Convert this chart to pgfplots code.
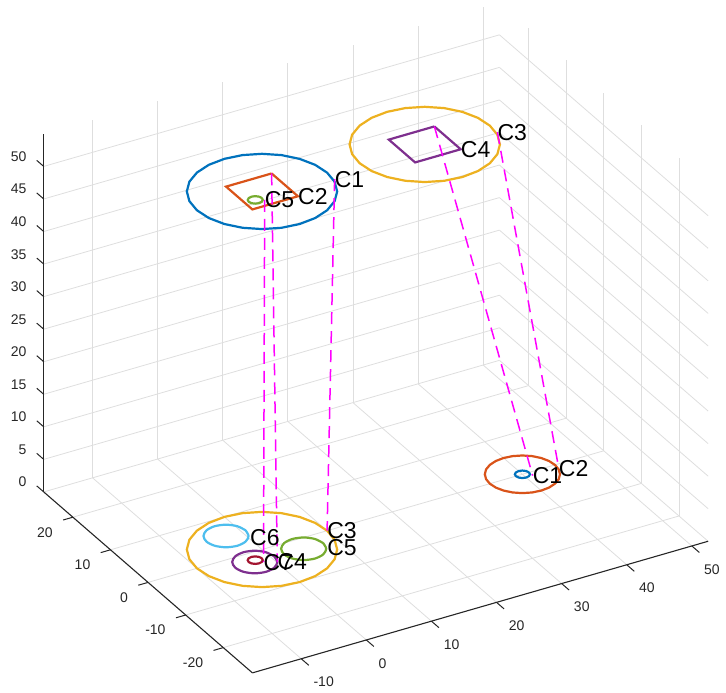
\documentclass[border=0pt]{standalone}
\usepackage{fontspec}
\setmainfont{Liberation Sans}
\usepackage{pgfplots}
\pgfplotsset{compat=1.18}
\definecolor{axc}{rgb}{0.15,0.15,0.15}
\definecolor{gridc}{rgb}{0.87,0.87,0.87}
\definecolor{mblue}{rgb}{0,0.447,0.741}
\definecolor{morange}{rgb}{0.850,0.325,0.098}
\definecolor{myellow}{rgb}{0.929,0.694,0.125}
\definecolor{mpurple}{rgb}{0.494,0.184,0.556}
\definecolor{mgreen}{rgb}{0.466,0.674,0.188}
\definecolor{mlblue}{rgb}{0.301,0.745,0.933}
\definecolor{mred}{rgb}{0.635,0.078,0.184}
\definecolor{mmag}{rgb}{1,0,1}
\begin{document}
\begin{tikzpicture}
\begin{axis}[
  x={(6.51pt,1.88pt)}, y={(-3.76pt,3.26pt)}, z={(0pt,6.51pt)},
  xmin=-17.5, xmax=52.5, ymin=-27.75, ymax=27.75, zmin=0, zmax=55,
  xtick={-10,0,...,50}, ytick={-20,-10,...,20}, ztick={0,5,...,50},
  grid=major,
  major grid style={color=gridc, line width=0.8pt},
  axis line style={draw=none},
  tick pos=left,
  tick style={draw=none},
  major tick length=9pt,
  tick align=outside,
  tick label style={font=\fontsize{14}{16}\selectfont, text=axc},
  xticklabel style={anchor=north west, xshift=2pt, yshift=-9pt},
  yticklabel style={anchor=north east, xshift=-8pt, yshift=-4pt},
  zticklabel style={anchor=east, xshift=-7pt, yshift=4pt},
  /pgf/number format/assume math mode=true,
  clip=false,
]
\draw[axc, line width=1.1pt] (axis cs:-17.5,-27.75,0) -- (axis cs:52.5,-27.75,0);
\draw[axc, line width=1.1pt] (axis cs:-17.5,-27.75,0) -- (axis cs:-17.5,27.75,0);
\draw[axc, line width=1.1pt] (axis cs:-17.5,27.75,0) -- (axis cs:-17.5,27.75,55);
\pgfplotsinvokeforeach{-10,0,10,20,30,40,50}{
  \draw[axc, line width=1pt] (axis cs:#1,-27.75,0) -- (axis cs:#1,-29.75,0);}
\pgfplotsinvokeforeach{-20,-10,0,10,20}{
  \draw[axc, line width=1pt] (axis cs:-17.5,#1,0) -- (axis cs:-19,#1,0);}
\pgfplotsinvokeforeach{0,5,10,15,20,25,30,35,40,45,50}{
  \draw[axc, line width=1pt] (axis cs:-17.5,27.75,#1) -- (axis cs:-17.5,29.6,#1);}
\coordinate (O) at (axis cs:0,0,0);

% top level z = 55
\addplot3[mblue, line width=2.2pt] coordinates {
(10,0,55) (9.659,2.588,55) (8.660,5,55) (7.071,7.071,55) (5,8.660,55) (2.588,9.659,55) (0,10,55) (-2.588,9.659,55) (-5,8.660,55) (-7.071,7.071,55) (-8.660,5,55) (-9.659,2.588,55) (-10,0,55) (-9.659,-2.588,55) (-8.660,-5,55) (-7.071,-7.071,55) (-5,-8.660,55) (-2.588,-9.659,55) (0,-10,55) (2.588,-9.659,55) (5,-8.660,55) (7.071,-7.071,55) (8.660,-5,55) (9.659,-2.588,55) (10,0,55)};
\addplot3[morange, line width=2.2pt] coordinates {
(3.5,3.5,55) (-3.5,3.5,55) (-3.5,-3.5,55) (3.5,-3.5,55) (3.5,3.5,55)};
\addplot3[mgreen, line width=2.2pt, smooth] coordinates {
(-0.9,-1.5,55) (-1.034,-1,55) (-1.4,-0.634,55) (-1.9,-0.5,55) (-2.4,-0.634,55) (-2.766,-1,55) (-2.9,-1.5,55) (-2.766,-2,55) (-2.4,-2.366,55) (-1.9,-2.5,55) (-1.4,-2.366,55) (-1.034,-2,55) (-0.9,-1.5,55)};
\addplot3[myellow, line width=2.2pt] coordinates {
(35,0,55) (34.659,2.588,55) (33.660,5,55) (32.071,7.071,55) (30,8.660,55) (27.588,9.659,55) (25,10,55) (22.412,9.659,55) (20,8.660,55) (17.929,7.071,55) (16.340,5,55) (15.341,2.588,55) (15,0,55) (15.341,-2.588,55) (16.340,-5,55) (17.929,-7.071,55) (20,-8.660,55) (22.412,-9.659,55) (25,-10,55) (27.588,-9.659,55) (30,-8.660,55) (32.071,-7.071,55) (33.660,-5,55) (34.659,-2.588,55) (35,0,55)};
\addplot3[mpurple, line width=2.2pt] coordinates {
(28.5,3.5,55) (21.5,3.5,55) (21.5,-3.5,55) (28.5,-3.5,55) (28.5,3.5,55)};

% bottom level z = 0
\addplot3[myellow, line width=2.2pt] coordinates {
(10,0,0) (9.659,2.588,0) (8.660,5,0) (7.071,7.071,0) (5,8.660,0) (2.588,9.659,0) (0,10,0) (-2.588,9.659,0) (-5,8.660,0) (-7.071,7.071,0) (-8.660,5,0) (-9.659,2.588,0) (-10,0,0) (-9.659,-2.588,0) (-8.660,-5,0) (-7.071,-7.071,0) (-5,-8.660,0) (-2.588,-9.659,0) (0,-10,0) (2.588,-9.659,0) (5,-8.660,0) (7.071,-7.071,0) (8.660,-5,0) (9.659,-2.588,0) (10,0,0)};
\addplot3[mlblue, line width=2.2pt, smooth] coordinates {
(0.65,5.5,0) (0.248,7,0) (-0.85,8.098,0) (-2.35,8.5,0) (-3.85,8.098,0) (-4.948,7,0) (-5.35,5.5,0) (-4.948,4,0) (-3.85,2.902,0) (-2.35,2.5,0) (-0.85,2.902,0) (0.248,4,0) (0.65,5.5,0)};
\addplot3[mpurple, line width=2.2pt, smooth] coordinates {
(0.5,-2.4,0) (0.098,-0.9,0) (-1,0.198,0) (-2.5,0.6,0) (-4,0.198,0) (-5.098,-0.9,0) (-5.5,-2.4,0) (-5.098,-3.9,0) (-4,-4.998,0) (-2.5,-5.4,0) (-1,-4.998,0) (0.098,-3.9,0) (0.5,-2.4,0)};
\addplot3[mred, line width=2.2pt, smooth] coordinates {
(-1.2,-2,0) (-1.334,-1.5,0) (-1.7,-1.134,0) (-2.2,-1,0) (-2.7,-1.134,0) (-3.066,-1.5,0) (-3.2,-2,0) (-3.066,-2.5,0) (-2.7,-2.866,0) (-2.2,-3,0) (-1.7,-2.866,0) (-1.334,-2.5,0) (-1.2,-2,0)};
\addplot3[mgreen, line width=2.2pt, smooth] coordinates {
(7.9,-2.6,0) (7.498,-1.1,0) (6.4,-0.002,0) (4.9,0.4,0) (3.4,-0.002,0) (2.302,-1.1,0) (1.9,-2.6,0) (2.302,-4.1,0) (3.4,-5.198,0) (4.9,-5.6,0) (6.4,-5.198,0) (7.498,-4.1,0) (7.9,-2.6,0)};
\addplot3[morange, line width=2.2pt] coordinates {
(45,0,0) (44.830,1.294,0) (44.330,2.5,0) (43.536,3.536,0) (42.5,4.330,0) (41.294,4.830,0) (40,5,0) (38.706,4.830,0) (37.5,4.330,0) (36.464,3.536,0) (35.670,2.5,0) (35.170,1.294,0) (35,0,0) (35.170,-1.294,0) (35.670,-2.5,0) (36.464,-3.536,0) (37.5,-4.330,0) (38.706,-4.830,0) (40,-5,0) (41.294,-4.830,0) (42.5,-4.330,0) (43.536,-3.536,0) (44.330,-2.5,0) (44.830,-1.294,0) (45,0,0)};
\addplot3[mblue, line width=2.2pt, smooth] coordinates {
(41,0,0) (40.866,0.5,0) (40.5,0.866,0) (40,1,0) (39.5,0.866,0) (39.134,0.5,0) (39,0,0) (39.134,-0.5,0) (39.5,-0.866,0) (40,-1,0) (40.5,-0.866,0) (40.866,-0.5,0) (41,0,0)};

% dashed links
\pgfplotsset{dl/.style={mmag, line width=1.5pt, dash pattern=on 12pt off 7pt}}
\addplot3[dl] coordinates {(10,-2,55) (10,0,0)};
\addplot3[dl] coordinates {(3.5,3.5,55) (0.1,-3.9,0)};
\addplot3[dl] coordinates {(-0.8,-2.1,55) (-1.5,-3,0)};
\addplot3[dl] coordinates {(28.5,3.5,55) (41,-1,0)};
\addplot3[dl] coordinates {(35,-2,55) (45,-1,0)};

% labels
\tikzset{lab/.style={anchor=west, inner sep=0pt, font=\fontsize{23}{26}\selectfont, text=black}}
\node[lab] at (axis cs:10,-2,55) {C1};
\node[lab] at (axis cs:3.5,-3.5,55) {C2};
\node[lab] at (axis cs:-0.8,-2.1,55) {C5};
\node[lab] at (axis cs:28.5,-3.5,55) {C4};
\node[lab] at (axis cs:35,-2,55) {C3};
\node[lab] at (axis cs:10,0,0) {C3};
\node[lab] at (axis cs:7.7,-4,0) {C5};
\node[lab] at (axis cs:0.15,3.45,0) {C6};
\node[lab] at (axis cs:-1.5,-3,0) {C7};
\node[lab] at (axis cs:0.1,-3.9,0) {C4};
\node[lab] at (axis cs:41,-1,0) {C1};
\node[lab] at (axis cs:45,-1,0) {C2};
\end{axis}
\pgfresetboundingbox
\path ([shift={(-262pt,549.5pt)}]O) rectangle ([shift={(464pt,-143.5pt)}]O);
\end{tikzpicture}
\end{document}
